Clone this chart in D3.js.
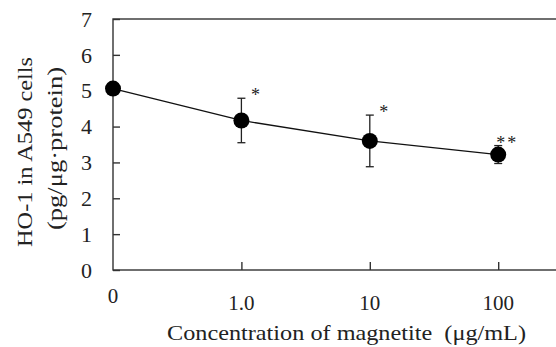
<!DOCTYPE html>
<html>
<head>
<meta charset="utf-8">
<script src="https://cdn.jsdelivr.net/npm/d3@7"></script>
<style>
  html, body { margin: 0; padding: 0; background: #fff; }
  svg text { font-family: "Liberation Serif", "Times New Roman", serif; fill: #222; }
</style>
</head>
<body>
<div id="chart"></div>
<script>
// values
const categories = ["0", "1.0", "10", "100"];
const means = [5.06, 4.17, 3.60, 3.22];
const errors = [0, 0.62, 0.72, 0.25];
const signif = ["", "*", "*", "**"];
const yTicks = [0, 1, 2, 3, 4, 5, 6, 7];

const width = 556, height = 347;
const margin = { top: 19, right: -4, bottom: 77, left: 113 };
const innerW = width - margin.left - margin.right;
const innerH = height - margin.top - margin.bottom;

const svg = d3.select("#chart").append("svg")
    .attr("width", width)
    .attr("height", height);

const g = svg.append("g")
    .attr("transform", "translate(" + margin.left + "," + margin.top + ")");

const step = 128.4;
const x = d3.scalePoint()
    .domain(categories)
    .range([0, step * (categories.length - 1)]);
const y = d3.scaleLinear().domain([0, 7]).range([innerH, 0]);

// frame
g.append("rect")
    .attr("x", 0).attr("y", 0)
    .attr("width", innerW).attr("height", innerH)
    .attr("fill", "none")
    .attr("stroke", "#333")
    .attr("stroke-width", 1.4);

// y axis, inward ticks
const yAxis = g.append("g")
    .call(d3.axisRight(y).tickValues(yTicks).tickSize(7).tickFormat(""));
yAxis.select(".domain").remove();
yAxis.selectAll("line").attr("stroke", "#333").attr("stroke-width", 1.4);

g.selectAll(".ylab")
    .data(yTicks)
    .join("text")
    .attr("class", "ylab")
    .attr("x", -21)
    .attr("y", d => y(d))
    .attr("dy", "0.35em")
    .attr("text-anchor", "end")
    .attr("font-size", 22)
    .text(d => d);

// x axis, inward ticks (not at 0)
const xAxis = g.append("g")
    .attr("transform", "translate(0," + innerH + ")")
    .call(d3.axisTop(x).tickValues(categories.slice(1)).tickSize(8).tickFormat(""));
xAxis.select(".domain").remove();
xAxis.selectAll("line").attr("stroke", "#333").attr("stroke-width", 1.4);

g.selectAll(".xlab")
    .data(categories)
    .join("text")
    .attr("class", "xlab")
    .attr("x", d => x(d))
    .attr("y", (d, i) => innerH + (i === 0 ? 33 : 40))
    .attr("text-anchor", "middle")
    .attr("font-size", 21)
    .text(d => d);

// axis titles
svg.append("text")
    .attr("x", 167)
    .attr("y", 340)
    .attr("font-size", 22)
    .attr("textLength", 359)
    .attr("lengthAdjust", "spacingAndGlyphs")
    .style("white-space", "pre")
    .text("Concentration of magnetite  (\u03bcg/mL)");

const yt = svg.append("text")
    .attr("transform", "translate(32,150) rotate(-90)")
    .attr("text-anchor", "middle")
    .attr("font-size", 22);
yt.append("tspan").attr("x", -2).attr("y", 0)
    .attr("textLength", 190).attr("lengthAdjust", "spacingAndGlyphs")
    .text("HO-1 in A549 cells");
yt.append("tspan").attr("x", 1.5).attr("y", 30)
    .attr("textLength", 163).attr("lengthAdjust", "spacingAndGlyphs")
    .text("(pg/\u03bcg\u00b7protein)");

// line
const pts = categories.map((c, i) => ({ c: c, m: means[i], e: errors[i], s: signif[i] }));
g.append("path")
    .datum(pts)
    .attr("fill", "none")
    .attr("stroke", "#111")
    .attr("stroke-width", 1.3)
    .attr("d", d3.line().x(d => x(d.c)).y(d => y(d.m)));

// error bars
const eb = g.selectAll(".eb")
    .data(pts.filter(d => d.e > 0))
    .join("g")
    .attr("class", "eb")
    .attr("stroke", "#222")
    .attr("stroke-width", 1.3);
eb.append("line")
    .attr("x1", d => x(d.c)).attr("x2", d => x(d.c))
    .attr("y1", d => y(d.m + d.e)).attr("y2", d => y(d.m - d.e));
eb.append("line")
    .attr("x1", d => x(d.c) - 4).attr("x2", d => x(d.c) + 4)
    .attr("y1", d => y(d.m + d.e)).attr("y2", d => y(d.m + d.e));
eb.append("line")
    .attr("x1", d => x(d.c) - 4).attr("x2", d => x(d.c) + 4)
    .attr("y1", d => y(d.m - d.e)).attr("y2", d => y(d.m - d.e));

// markers
g.selectAll(".pt")
    .data(pts)
    .join("circle")
    .attr("class", "pt")
    .attr("cx", d => x(d.c))
    .attr("cy", d => y(d.m))
    .attr("r", 8)
    .attr("fill", "#000");

// significance marks, just above and right of the error bar top
g.selectAll(".sig")
    .data(pts.filter(d => d.s))
    .join("text")
    .attr("class", "sig")
    .attr("x", d => x(d.c) + (d.s.length > 1 ? 9 : 15))
    .attr("y", d => y(d.m + d.e) + 3)
    .attr("text-anchor", "middle")
    .attr("font-size", 18)
    .attr("letter-spacing", 2)
    .attr("fill", "#333")
    .text(d => d.s);
</script>
</body>
</html>
